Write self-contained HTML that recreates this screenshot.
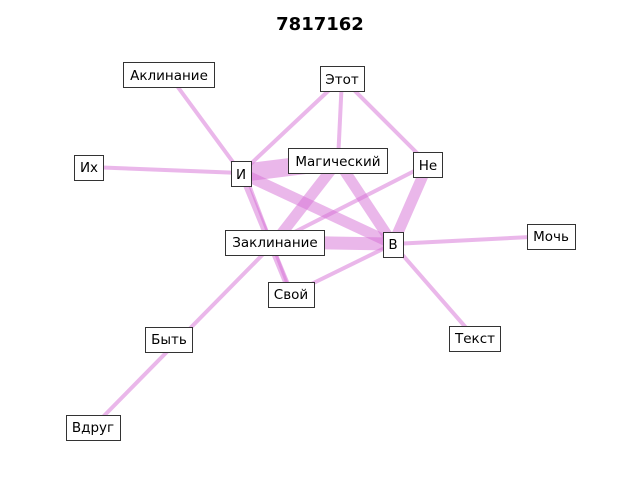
<!DOCTYPE html>
<html><head><meta charset="utf-8"><style>body{margin:0;background:#fff}</style></head><body>
<svg width="640" height="480" xmlns="http://www.w3.org/2000/svg" font-family="'DejaVu Sans','Liberation Sans',sans-serif">
<rect width="640" height="480" fill="#fff"/>
<text x="320" y="30" text-anchor="middle" font-size="18" font-weight="bold">7817162</text>
<g stroke="#d670d6" stroke-opacity="0.5" stroke-linecap="butt" fill="none">
<line x1="169" y1="75" x2="241" y2="173" stroke-width="4"/>
<line x1="89" y1="167" x2="241" y2="173" stroke-width="4"/>
<line x1="342" y1="78" x2="241" y2="173" stroke-width="4"/>
<line x1="342" y1="78" x2="338" y2="161" stroke-width="4"/>
<line x1="342" y1="78" x2="428" y2="164" stroke-width="4"/>
<line x1="241" y1="173" x2="338" y2="161" stroke-width="18"/>
<line x1="241" y1="173" x2="393" y2="244" stroke-width="11"/>
<line x1="241" y1="173" x2="291" y2="294" stroke-width="6"/>
<line x1="245" y1="173" x2="291" y2="294" stroke-width="3"/>
<line x1="338" y1="161" x2="275" y2="242" stroke-width="11"/>
<line x1="338" y1="161" x2="393" y2="244" stroke-width="11"/>
<line x1="428" y1="164" x2="393" y2="244" stroke-width="11"/>
<line x1="428" y1="164" x2="275" y2="242" stroke-width="4"/>
<line x1="275" y1="242" x2="393" y2="244" stroke-width="13"/>
<line x1="393" y1="244" x2="551" y2="236" stroke-width="4"/>
<line x1="393" y1="244" x2="475" y2="338" stroke-width="4"/>
<line x1="393" y1="244" x2="291" y2="294" stroke-width="4"/>
<line x1="275" y1="242" x2="93" y2="427" stroke-width="4"/>
</g>
<g font-size="13.5" text-anchor="middle">
<g stroke="#333" fill="#fff" stroke-width="1">
<rect x="123.5" y="62.5" width="91" height="25"/>
<rect x="320.5" y="66.5" width="44" height="25"/>
<rect x="74.5" y="155.5" width="29" height="25"/>
<rect x="231.5" y="161.5" width="20" height="25"/>
<rect x="288.5" y="148.5" width="99" height="25"/>
<rect x="413.5" y="152.5" width="29" height="25"/>
<rect x="225.5" y="230.5" width="99" height="25"/>
<rect x="383.5" y="232.5" width="20" height="25"/>
<rect x="527.5" y="224.5" width="48" height="25"/>
<rect x="268.5" y="282.5" width="46" height="25"/>
<rect x="145.5" y="327.5" width="47" height="25"/>
<rect x="449.5" y="326.5" width="51" height="25"/>
<rect x="66.5" y="415.5" width="54" height="25"/>
</g>
<text x="169" y="80">Аклинание</text>
<text x="342" y="84">Этот</text>
<text x="89" y="172">Их</text>
<text x="241" y="179">И</text>
<text x="338" y="166">Магический</text>
<text x="428" y="170">Не</text>
<text x="275" y="247">Заклинание</text>
<text x="393" y="249">В</text>
<text x="551" y="241">Мочь</text>
<text x="291" y="299">Свой</text>
<text x="169" y="344">Быть</text>
<text x="475" y="343">Текст</text>
<text x="93" y="432">Вдруг</text>
</g>
</svg>
</body></html>
